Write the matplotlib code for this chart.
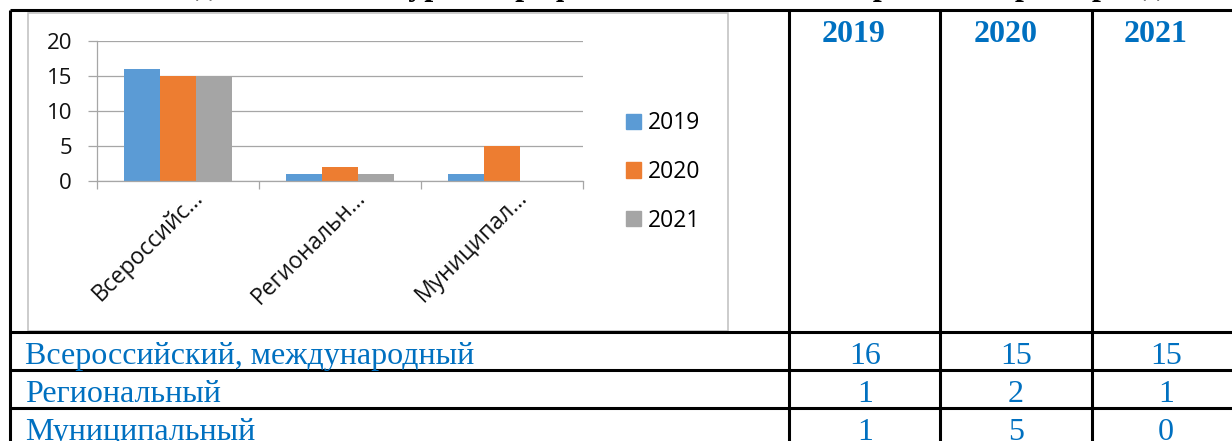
import matplotlib
matplotlib.use("Agg")
import matplotlib.pyplot as plt
from matplotlib.lines import Line2D
from matplotlib.patches import Rectangle, Patch
from matplotlib.transforms import ScaledTranslation
import numpy as np

# ---------------- data ----------------
years = ["2019", "2020", "2021"]
categories_full = ["Всероссийский, международный", "Региональный", "Муниципальный"]
categories_short = ["Всероссийс…", "Региональн…", "Муниципал…"]
values_2019 = [16, 1, 1]
values_2020 = [15, 2, 5]
values_2021 = [15, 1, 0]
series = [values_2019, values_2020, values_2021]
colors = ["#5B9BD5", "#ED7D31", "#A5A5A5"]
title_text = "Участие педагогов в конкурсах профессионального мастерства за три периода"

plt.rcParams["font.family"] = ["Open Sans", "DejaVu Sans"]

W, H = 1232, 441
fig = plt.figure(figsize=(W / 100, H / 100), dpi=100)
fig.patch.set_facecolor("white")


def fx(x):
    return x / W


def fy(y):
    return 1 - y / H


# ---------------- chart ----------------
ax = fig.add_axes([fx(97), fy(181), 486 / W, 140 / H])
x = np.arange(len(categories_short))
w = 0.222
for i, (vals, c) in enumerate(zip(series, colors)):
    ax.bar(x + (i - 1) * w, vals, w, color=c, zorder=2)

grid_c = "#A6A6A6"
ax.set_xlim(-0.5, 2.5)
ax.set_ylim(0, 20)
ax.set_yticks([0, 5, 10, 15, 20])
ax.yaxis.grid(True, color=grid_c, lw=0.9)
ax.set_axisbelow(True)
for s in ["top", "right"]:
    ax.spines[s].set_visible(False)
for s in ["left", "bottom"]:
    ax.spines[s].set_color(grid_c)
    ax.spines[s].set_linewidth(0.9)
ax.tick_params(axis="y", length=6.5, width=0.9, color=grid_c, pad=11.5,
               labelsize=16, labelcolor="#111111")
ax.set_xticks([-0.5, 0.5, 1.5, 2.5])
ax.set_xticklabels([])
ax.tick_params(axis="x", length=5.8, width=0.9, color=grid_c)

for i, lab in enumerate(categories_short):
    off = ScaledTranslation(22 / 100, -13 / 100, fig.dpi_scale_trans)
    ax.text(i, 0, lab, transform=ax.transData + off, rotation=45,
            rotation_mode="anchor", ha="right", va="center", fontsize=16.5,
            color="#111111")

handles = [Patch(color=c) for c in colors]
fig.legend(handles, years, loc="center left", bbox_to_anchor=(fx(626), fy(172)),
           frameon=False, fontsize=16.5, handlelength=0.66, handleheight=0.66,
           handletextpad=0.3, labelspacing=1.07, borderpad=0, borderaxespad=0)

# chart frame
fig.add_artist(Rectangle((fx(28), fy(331)), 700 / W, 318 / H,
                         transform=fig.transFigure, fill=False,
                         ec="#BFBFBF", lw=1.1))

# ---------------- table ----------------
def hline(y, x0=10, x1=1240):
    fig.add_artist(Line2D([fx(x0), fx(x1)], [fy(y), fy(y)], transform=fig.transFigure,
                          color="black", lw=2.2, solid_capstyle="butt"))


def vline(x, y0=10, y1=445):
    fig.add_artist(Line2D([fx(x), fx(x)], [fy(y0), fy(y1)], transform=fig.transFigure,
                          color="black", lw=2.2, solid_capstyle="butt"))


for yy in [10, 332, 370, 408]:
    hline(yy)
for xx in [10, 789, 940, 1092]:
    vline(xx)

blue = "#0070C0"
serif = "Liberation Serif"
header_x = [854, 1006, 1156]
col_x = [865, 1016, 1166]
for hx, yr in zip(header_x, years):
    fig.text(fx(hx), fy(42), yr, ha="center", va="baseline", fontsize=23,
             fontweight="bold", family=serif, color=blue)

row_base = [364, 402, 440]
for r, (name, yb) in enumerate(zip(categories_full, row_base)):
    fig.text(fx(25), fy(yb), name, ha="left", va="baseline", fontsize=23,
             family=serif, color=blue)
    for cx, vals in zip(col_x, series):
        fig.text(fx(cx), fy(yb), str(vals[r]), ha="center", va="baseline",
                 fontsize=23, family=serif, color=blue)

# title, almost entirely above the visible area (only its lower edge shows)
fig.text(fx(605), fy(-5), title_text, ha="center", va="baseline", fontsize=23,
         fontweight="bold", family=serif, color="black")

fig.savefig("out.png", dpi=100)
